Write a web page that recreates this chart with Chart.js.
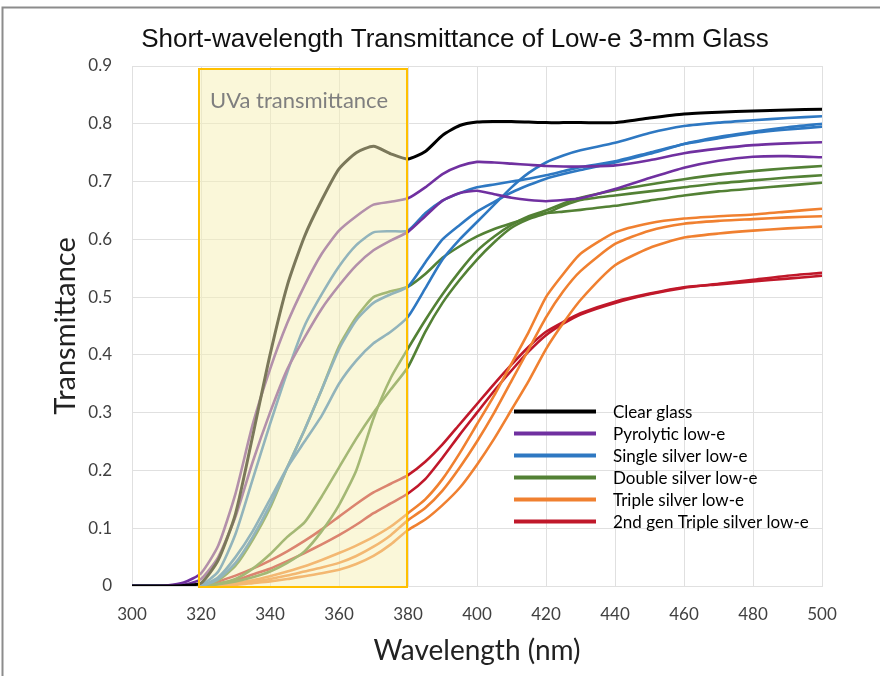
<!DOCTYPE html>
<html>
<head>
<meta charset="utf-8">
<title>Short-wavelength Transmittance of Low-e 3-mm Glass</title>
<script src="https://cdn.jsdelivr.net/npm/chart.js@4.4.1/dist/chart.umd.min.js"></script>
<style>
  html, body { margin: 0; padding: 0; background: #fff; }
  #wrap { width: 880px; height: 676px; }
</style>
</head>
<body>
<div id="wrap"><canvas id="chart" width="880" height="676"></canvas></div>
<script>
// wavelength in nm
const WAVELENGTHS = [300, 305, 310, 315, 320, 325, 330, 335, 340, 345, 350, 355, 360, 365, 370, 375, 380,
  385, 390, 395, 400, 405, 410, 415, 420, 425, 430, 440, 450, 460, 470, 480, 490, 500];

const CLEAR_GLASS = [0, 0, 0, 0.001, 0.005, 0.045, 0.125, 0.26, 0.4, 0.52, 0.605, 0.668, 0.722, 0.75, 0.761, 0.748, 0.739,
  0.752, 0.78, 0.797, 0.803, 0.804, 0.804, 0.803, 0.802, 0.802, 0.802, 0.802, 0.81, 0.817, 0.82, 0.822, 0.824, 0.825];

const PYROLYTIC_A = [0, 0, 0.001, 0.006, 0.022, 0.07, 0.16, 0.28, 0.375, 0.455, 0.52, 0.575, 0.615, 0.64, 0.66, 0.665, 0.671,
  0.69, 0.713, 0.727, 0.734, 0.733, 0.731, 0.729, 0.727, 0.726, 0.726, 0.728, 0.737, 0.749, 0.757, 0.763, 0.766, 0.768];
const PYROLYTIC_B = [0, 0, 0, 0.002, 0.012, 0.05, 0.12, 0.215, 0.3, 0.375, 0.43, 0.48, 0.52, 0.555, 0.581, 0.598, 0.613,
  0.64, 0.667, 0.68, 0.684, 0.678, 0.672, 0.668, 0.666, 0.668, 0.671, 0.687, 0.706, 0.724, 0.736, 0.743, 0.744, 0.742];

const SINGLE_A = [0, 0, 0, 0, 0.002, 0.025, 0.09, 0.185, 0.28, 0.37, 0.45, 0.505, 0.553, 0.59, 0.612, 0.614, 0.615,
  0.645, 0.667, 0.68, 0.69, 0.695, 0.7, 0.705, 0.711, 0.718, 0.725, 0.735, 0.75, 0.765, 0.775, 0.784, 0.79, 0.795];
const SINGLE_B = [0, 0, 0, 0, 0, 0.012, 0.04, 0.085, 0.14, 0.205, 0.27, 0.34, 0.41, 0.46, 0.49, 0.505, 0.518,
  0.56, 0.6, 0.625, 0.648, 0.665, 0.681, 0.694, 0.705, 0.713, 0.72, 0.733, 0.748, 0.765, 0.777, 0.786, 0.794, 0.8];
const SINGLE_C = [0, 0, 0, 0, 0, 0.015, 0.05, 0.095, 0.15, 0.205, 0.25, 0.295, 0.35, 0.39, 0.42, 0.44, 0.466,
  0.515, 0.565, 0.6, 0.63, 0.66, 0.69, 0.715, 0.733, 0.745, 0.754, 0.767, 0.784, 0.796, 0.802, 0.806, 0.81, 0.813];

const DOUBLE_A = [0, 0, 0, 0, 0, 0.01, 0.035, 0.08, 0.135, 0.205, 0.27, 0.34, 0.415, 0.465, 0.5, 0.51, 0.518,
  0.54, 0.568, 0.588, 0.605, 0.618, 0.628, 0.637, 0.645, 0.648, 0.651, 0.658, 0.667, 0.676, 0.683, 0.688, 0.693, 0.698];
const DOUBLE_B = [0, 0, 0, 0, 0, 0.004, 0.012, 0.03, 0.055, 0.085, 0.11, 0.155, 0.205, 0.255, 0.3, 0.34, 0.379,
  0.44, 0.49, 0.53, 0.565, 0.595, 0.62, 0.635, 0.645, 0.658, 0.668, 0.676, 0.683, 0.69, 0.697, 0.702, 0.707, 0.711];
const DOUBLE_C = [0, 0, 0, 0, 0, 0.003, 0.008, 0.015, 0.025, 0.04, 0.06, 0.095, 0.14, 0.2, 0.29, 0.36, 0.411,
  0.46, 0.505, 0.545, 0.58, 0.605, 0.625, 0.64, 0.65, 0.662, 0.672, 0.685, 0.695, 0.704, 0.712, 0.718, 0.723, 0.727];

const TRIPLE_A = [0, 0, 0, 0, 0, 0.002, 0.005, 0.01, 0.017, 0.025, 0.034, 0.045, 0.057, 0.07, 0.085, 0.103, 0.126,
  0.15, 0.185, 0.23, 0.28, 0.33, 0.385, 0.44, 0.5, 0.54, 0.575, 0.612, 0.628, 0.636, 0.64, 0.643, 0.648, 0.653];
const TRIPLE_B = [0, 0, 0, 0, 0, 0.001, 0.004, 0.007, 0.012, 0.018, 0.025, 0.032, 0.04, 0.052, 0.068, 0.088, 0.114,
  0.135, 0.165, 0.205, 0.25, 0.3, 0.355, 0.41, 0.465, 0.51, 0.545, 0.592, 0.615, 0.627, 0.632, 0.635, 0.638, 0.64];
const TRIPLE_C = [0, 0, 0, 0, 0, 0.001, 0.002, 0.005, 0.008, 0.012, 0.017, 0.022, 0.028, 0.038, 0.052, 0.072, 0.097,
  0.115, 0.14, 0.17, 0.21, 0.255, 0.305, 0.355, 0.41, 0.455, 0.495, 0.555, 0.585, 0.603, 0.61, 0.615, 0.619, 0.622];

const TRIPLE2_A = [0, 0, 0, 0, 0.001, 0.008, 0.018, 0.03, 0.044, 0.06, 0.078, 0.098, 0.12, 0.142, 0.162, 0.177, 0.192,
  0.215, 0.245, 0.28, 0.315, 0.35, 0.383, 0.414, 0.44, 0.457, 0.472, 0.492, 0.506, 0.517, 0.522, 0.527, 0.532, 0.537];
const TRIPLE2_B = [0, 0, 0, 0, 0, 0.004, 0.01, 0.02, 0.03, 0.043, 0.057, 0.072, 0.088, 0.106, 0.126, 0.143, 0.16,
  0.185, 0.222, 0.262, 0.3, 0.338, 0.373, 0.406, 0.434, 0.454, 0.47, 0.49, 0.505, 0.516, 0.523, 0.53, 0.537, 0.542];

const GROUP_LABELS = ['Clear glass', 'Pyrolytic low-e', 'Single silver low-e',
  'Double silver low-e', 'Triple silver low-e', '2nd gen Triple silver low-e'];
const GROUP_COLORS = ['#000000', '#7030a0', '#2e78c2', '#538135', '#f08030', '#c0182a'];
const GROUP_SERIES = [
  [CLEAR_GLASS],
  [PYROLYTIC_A, PYROLYTIC_B],
  [SINGLE_A, SINGLE_B, SINGLE_C],
  [DOUBLE_A, DOUBLE_B, DOUBLE_C],
  [TRIPLE_A, TRIPLE_B, TRIPLE_C],
  [TRIPLE2_A, TRIPLE2_B],
];

const Y_TICKS = [0, 0.1, 0.2, 0.3, 0.4, 0.5, 0.6, 0.7, 0.8, 0.9];
const X_TICKS = [300, 320, 340, 360, 380, 400, 420, 440, 460, 480, 500];
const UVA_BAND = [320, 380];

const TITLE = 'Short-wavelength Transmittance of Low-e 3-mm Glass';
const FONT = 'Lato, "Open Sans", sans-serif';

// ================================================================
// datasets
// ================================================================

function buildDatasets() {
  const sets = [];
  GROUP_SERIES.forEach((series, g) => {
    series.forEach((values) => {
      sets.push({
        label: GROUP_LABELS[g],
        data: WAVELENGTHS.map((w, i) => ({ x: w, y: values[i] })),
        borderColor: GROUP_COLORS[g],
        backgroundColor: GROUP_COLORS[g],
        borderWidth: g === 0 ? 3 : 2.6,
        pointRadius: 0,
        tension: 0.2,
      });
    });
  });
  return sets;
}

// ================================================================
// plugins
// ================================================================

// grey frame + title (title sits off-centre from the plot, so drawn by hand)
const frame = {
  id: 'frame',
  beforeDraw(chart) {
    const { ctx, width, height } = chart;
    ctx.save();
    ctx.fillStyle = '#fff';
    ctx.fillRect(0, 0, width, height);
    ctx.strokeStyle = '#8c8c8c';
    ctx.lineWidth = 2;
    ctx.beginPath();
    ctx.moveTo(2.5, height);
    ctx.lineTo(2.5, 7.5);
    ctx.lineTo(width, 7.5);
    ctx.stroke();

    ctx.fillStyle = '#111';
    ctx.font = '26px "Liberation Sans", Arial, sans-serif';
    ctx.textAlign = 'center';
    ctx.textBaseline = 'middle';
    ctx.fillText(TITLE, 455, 40);
    ctx.restore();
  },
};

const uvaBox = {
  id: 'uvaBox',
  afterDatasetsDraw(chart) {
    const { ctx, scales: { x, y } } = chart;
    const left = x.getPixelForValue(UVA_BAND[0]) - 2;
    const right = x.getPixelForValue(UVA_BAND[1]) - 1;
    const top = y.getPixelForValue(0.9) + 3;
    const bottom = y.getPixelForValue(0) + 1;
    ctx.save();
    ctx.fillStyle = 'rgba(245, 240, 180, 0.5)';
    ctx.fillRect(left, top, right - left, bottom - top);
    ctx.strokeStyle = '#ffc000';
    ctx.lineWidth = 2;
    ctx.strokeRect(left, top, right - left, bottom - top);
    ctx.fillStyle = '#7f7f7f';
    ctx.font = '22px ' + FONT;
    ctx.fillText('UVa transmittance', left + 11, top + 39);
    ctx.restore();
  },
};

const lineLegend = {
  id: 'lineLegend',
  afterDraw(chart) {
    const { ctx } = chart;
    ctx.save();
    ctx.font = '17px ' + FONT;
    ctx.textBaseline = 'alphabetic';
    GROUP_LABELS.forEach((label, i) => {
      const ly = 411.5 + i * 22;
      ctx.strokeStyle = GROUP_COLORS[i];
      ctx.lineWidth = 4;
      ctx.beginPath();
      ctx.moveTo(514, ly);
      ctx.lineTo(596, ly);
      ctx.stroke();
      ctx.fillStyle = '#000';
      ctx.fillText(label, 613, ly + 6);
    });
    ctx.restore();
  },
};

// ================================================================
// chart
// ================================================================

function makeChart() {
  const ctx = document.getElementById('chart').getContext('2d');
  new Chart(ctx, {
    type: 'line',
    data: { datasets: buildDatasets() },
    plugins: [frame, uvaBox, lineLegend],
    options: {
      responsive: false,
      animation: false,
      layout: { padding: { left: 0, right: 58, top: 66, bottom: 0 } },
      plugins: {
        legend: { display: false },
        tooltip: { enabled: false },
        title: { display: false },
      },
      scales: {
        x: {
          type: 'linear',
          min: 300,
          max: 500,
          afterBuildTicks: (scale) => { scale.ticks = X_TICKS.map((v) => ({ value: v })); },
          afterFit: (scale) => { scale.height = 90; },
          ticks: { color: '#404040', font: { family: FONT, size: 17 }, padding: 18 },
          grid: { color: '#e0e0e0', drawTicks: false },
          border: { color: '#e0e0e0' },
          title: {
            display: true,
            text: 'Wavelength (nm)',
            color: '#222',
            font: { family: FONT, size: 28 },
            padding: { top: 0, bottom: 8 },
          },
        },
        y: {
          min: 0,
          max: 0.9,
          afterBuildTicks: (scale) => { scale.ticks = Y_TICKS.map((v) => ({ value: v })); },
          afterFit: (scale) => { scale.width = 132; },
          ticks: {
            color: '#404040',
            font: { family: FONT, size: 17 },
            padding: 20,
            callback: (v) => String(Math.round(v * 10) / 10),
          },
          grid: { color: '#e0e0e0', drawTicks: false },
          border: { color: '#e0e0e0' },
          title: {
            display: true,
            text: 'Transmittance',
            color: '#222',
            font: { family: FONT, size: 29 },
            padding: { top: 48, bottom: 0 },
          },
        },
      },
    },
  });
}

Promise.all([
  document.fonts.load('16px Lato'),
  document.fonts.load('28px Lato'),
  document.fonts.load('26px "Liberation Sans"'),
]).then(makeChart, makeChart);
</script>
</body>
</html>
